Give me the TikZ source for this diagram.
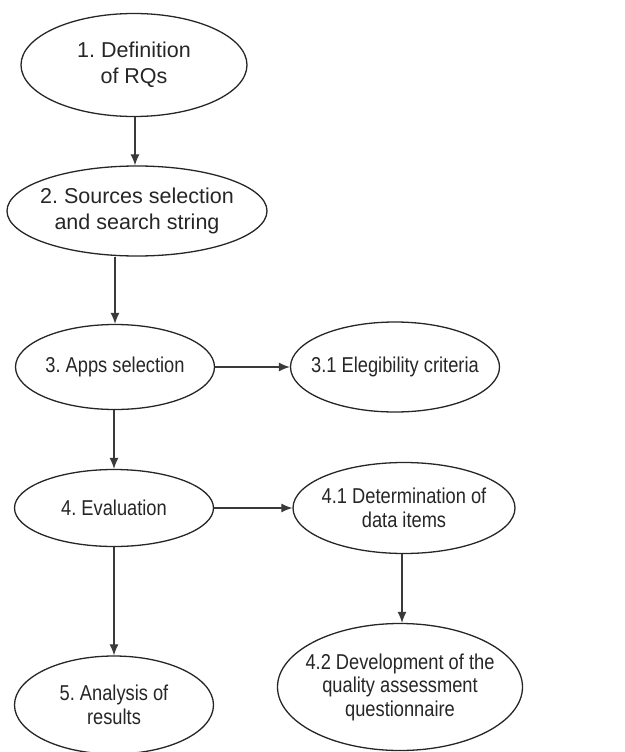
\documentclass[tikz,border=0pt]{standalone}
\usepackage{fontspec}
\setmainfont{Liberation Sans}
\newfontfamily\narrowsans[FakeStretch=0.85]{Liberation Sans}
\usepackage{tikz}
\usetikzlibrary{shapes.geometric,arrows.meta}
\definecolor{linegray}{HTML}{3A3A3A}
\frenchspacing
\tikzstyle{phase}=[ellipse,draw=black!85,line width=1.3pt,inner xsep=-12pt,inner ysep=0pt,align=center,
  font=\narrowsans\fontsize{21.5}{23.5}\selectfont,text=black!85]
\tikzstyle{bigphase}=[phase,font=\fontsize{21.5}{26}\selectfont]
\tikzstyle{flow}=[draw=linegray,line width=1.2pt,-{Latex[length=11pt,width=9pt]}]

\begin{document}
\begin{tikzpicture}[x=1pt,y=-1pt]
    \useasboundingbox (0,0) rectangle (624,752);
    \node[bigphase,minimum width=226pt,minimum height=103pt] (s1)  at (134,65)  {1. Definition\\of RQs};
    \node[bigphase,minimum width=260pt,minimum height=90pt]  (s2)  at (137,211) {2. Sources selection\\and search string};
    \node[phase,minimum width=199pt,minimum height=85pt]  (s3)  at (115,367) {3. Apps selection};
    \node[phase,minimum width=209pt,minimum height=90pt]  (s31) at (395,367) {3.1 Elegibility criteria};
    \node[phase,minimum width=199pt,minimum height=77pt]  (s4)  at (114,508) {4. Evaluation};
    \node[phase,minimum width=222pt,minimum height=91pt]  (s41) at (404,508) {4.1 Determination of\\data items};
    \node[phase,minimum width=199pt,minimum height=98pt]  (s5)  at (114,705) {5. Analysis of\\results};
    \node[phase,minimum width=245pt,minimum height=127pt] (s42) at (400,687) {4.2 Development of the\\quality assessment\\questionnaire};
%   vertical steps
    \draw[flow] (s1.south -| 135,0) -- (s2.north -| 135,0);
    \draw[flow] (s2.south -| s3.north) -- (s3.north);
    \draw[flow] (s3.south -| s4.north) -- (s4.north);
    \draw[flow] (s4.south) -- (s5.north);
    \draw[flow] (s41.south -| 402,0) -- (s42.north -| 402,0);
%   side steps
    \draw[flow] (s3.east) -- (s31.west);
    \draw[flow] (s4.east) -- (s41.west);
\end{tikzpicture}
\end{document}
